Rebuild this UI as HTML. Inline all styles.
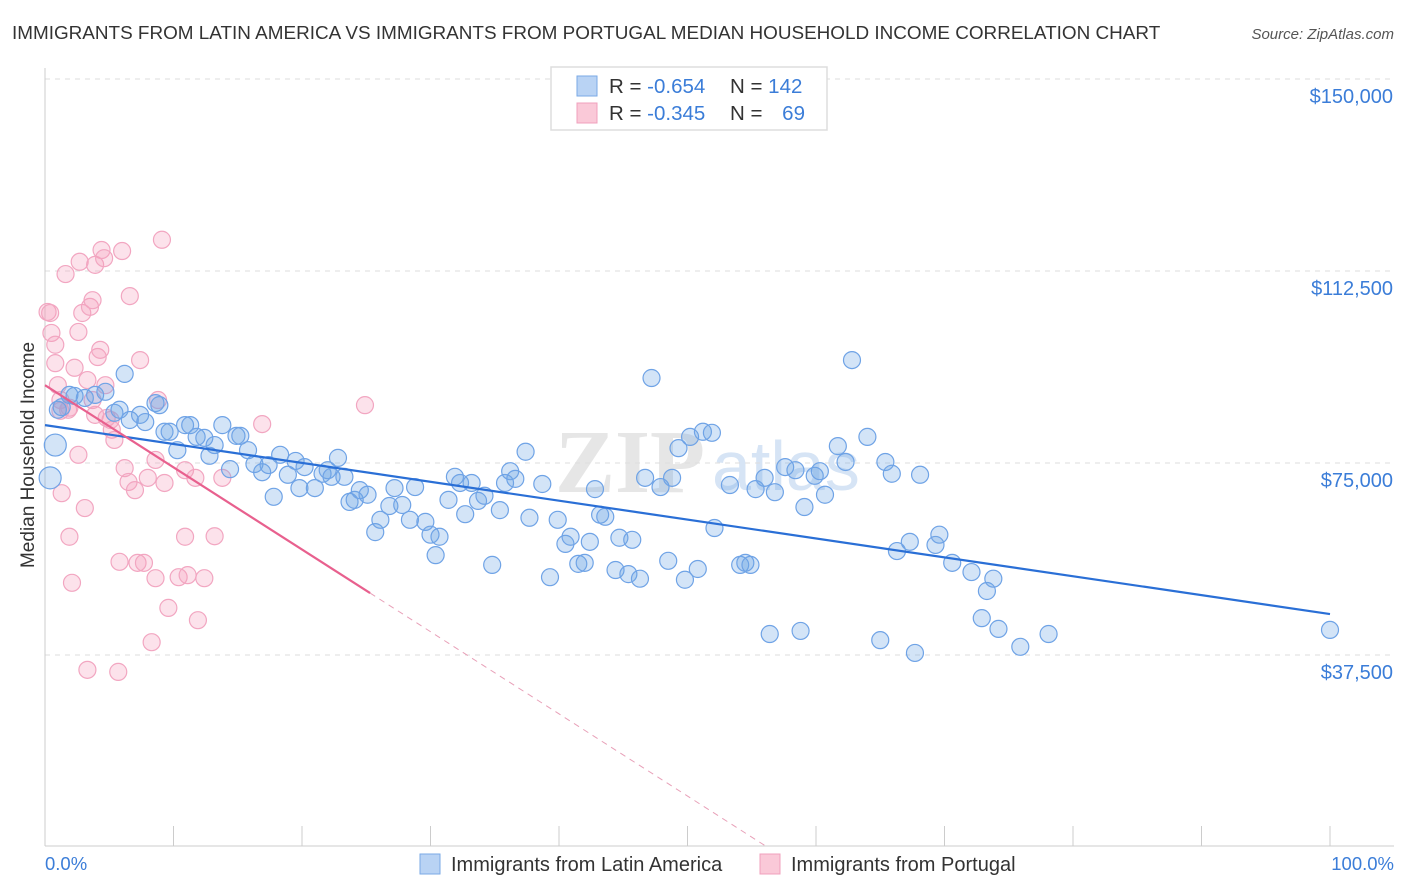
<!DOCTYPE html>
<html><head><meta charset="utf-8">
<style>
body{margin:0;background:#fff;font-family:"Liberation Sans",sans-serif;}
#wrap{position:relative;width:1406px;height:892px;overflow:hidden;}
</style></head>
<body>
<div id="wrap">
<svg id="svg" width="1406" height="892" xmlns="http://www.w3.org/2000/svg" font-family="Liberation Sans, sans-serif">
<text x="12" y="39" font-size="18.9" fill="#333">IMMIGRANTS FROM LATIN AMERICA VS IMMIGRANTS FROM PORTUGAL MEDIAN HOUSEHOLD INCOME CORRELATION CHART</text>
<text x="1394" y="39" font-size="15" fill="#555" font-style="italic" text-anchor="end">Source: ZipAtlas.com</text>
<text x="34" y="455" font-size="19" fill="#333" text-anchor="middle" transform="rotate(-90 34 455)">Median Household Income</text>
<text x="555" y="492" font-size="90" fill="#e6e6e6" font-family="Liberation Serif, serif" font-weight="bold">ZIP</text>
<text x="712" y="490" font-size="70" fill="#d6e4f5">atlas</text>
<g id="grid"></g>
<g id="axes"></g>
<g id="pts"></g>
<g id="trend"></g>
<g>
<rect x="551" y="67" width="276" height="63" fill="#fff" stroke="#ddd" stroke-width="1.5"/>
<rect x="577" y="76" width="20" height="20" fill="#b9d3f4" stroke="#7aa9e6"/>
<rect x="577" y="103" width="20" height="20" fill="#fac9d8" stroke="#f0a0bd"/>
<text x="609" y="93" font-size="20.5" fill="#333">R = <tspan fill="#3b7dd8">-0.654</tspan></text>
<text x="730" y="93" font-size="20.5" fill="#333">N = <tspan fill="#3b7dd8">142</tspan></text>
<text x="609" y="120" font-size="20.5" fill="#333">R = <tspan fill="#3b7dd8">-0.345</tspan></text>
<text x="730" y="120" font-size="20.5" fill="#333">N = <tspan fill="#3b7dd8" dx="14">69</tspan></text>
</g>
<g>
<rect x="420" y="854" width="20" height="20" fill="#b9d3f4" stroke="#7aa9e6"/>
<text x="451" y="871" font-size="20" fill="#333">Immigrants from Latin America</text>
<rect x="760" y="854" width="20" height="20" fill="#fac9d8" stroke="#f0a0bd"/>
<text x="791" y="871" font-size="20" fill="#333">Immigrants from Portugal</text>
</g>
<text x="45" y="870" font-size="18.5" fill="#3b7dd8">0.0%</text>
<text x="1394" y="870" font-size="18.5" fill="#3b7dd8" text-anchor="end">100.0%</text>
</svg>
</div>
<script>
const yTicks=[37500,75000,112500,150000];
const yTickLabels=["$37,500","$75,000","$112,500","$150,000"];
const blueX=[0.4,0.8,1.0,1.3,1.9,2.3,3.1,3.9,4.7,5.4,5.8,6.2,6.6,7.4,7.8,8.6,8.9,9.3,9.7,10.3,10.9,11.3,11.8,12.4,12.8,13.2,13.8,14.4,14.9,15.2,15.8,16.3,16.9,17.4,17.8,18.3,18.9,19.5,19.8,20.2,21.0,21.6,22.0,22.3,22.8,23.3,23.7,24.1,24.5,25.1,25.7,26.1,26.8,27.2,27.8,28.4,28.8,29.6,30.0,30.4,30.7,31.4,31.9,32.3,32.7,33.2,33.7,34.2,34.8,35.4,35.8,36.2,36.6,37.4,37.7,38.7,39.3,39.9,40.5,40.9,41.5,42.0,42.4,42.8,43.2,43.6,44.4,44.7,45.4,45.7,46.3,46.7,47.2,47.9,48.5,48.8,49.3,49.8,50.2,50.8,51.2,51.9,52.1,53.3,54.1,54.5,54.9,55.3,56.0,56.4,56.8,57.6,58.4,58.8,59.1,59.9,60.3,60.7,61.7,62.3,62.8,64.0,65.0,65.4,65.9,66.3,67.3,67.7,68.1,69.3,69.6,70.6,72.1,72.9,73.3,73.8,74.2,75.9,78.1,100];
const blueY=[72.1,78.5,85.4,85.9,88.3,88.1,87.7,88.3,88.9,84.8,85.4,92.4,83.4,84.4,83.0,86.7,86.3,81.1,81.1,77.5,82.4,82.4,80.1,79.9,76.4,78.5,82.4,73.8,80.3,80.3,77.5,74.8,73.2,74.6,68.4,76.6,72.7,75.4,70.1,74.2,70.1,72.9,73.6,72.3,76.0,72.3,67.4,67.8,69.7,68.8,61.5,63.9,66.6,70.1,66.8,63.9,70.3,63.5,61.0,57.0,60.6,67.8,72.3,71.1,65.0,71.1,67.6,68.6,55.1,65.8,71.1,73.4,71.9,77.2,64.3,70.9,52.7,63.9,59.2,60.6,55.3,55.5,59.6,69.9,64.9,64.5,54.1,60.4,53.3,60.0,52.4,72.1,91.6,70.3,55.9,72.1,77.9,52.2,80.1,54.3,81.1,80.9,62.3,70.7,55.1,55.5,55.1,69.9,72.1,41.6,69.3,74.2,73.6,42.2,66.4,72.5,73.4,68.8,78.3,75.2,95.1,80.1,40.4,75.2,72.9,57.8,59.6,37.9,72.7,59.0,61.0,55.5,53.7,44.7,50.0,52.4,42.6,39.1,41.6,42.4];
const pinkX=[0.2,0.4,0.5,0.8,0.8,1.0,1.2,1.3,1.6,1.8,1.9,2.1,2.3,2.6,2.6,2.7,2.9,3.1,3.3,3.3,3.5,3.7,3.9,4.1,4.3,4.4,4.6,4.7,4.8,5.1,5.2,5.4,5.7,5.8,6.0,6.2,6.5,6.6,7.0,7.2,7.4,7.7,8.0,8.3,8.6,8.6,8.8,9.1,9.3,9.6,10.4,10.9,10.9,11.1,11.7,11.9,12.4,13.2,13.8,16.9,24.9,3.7,3.9,1.9,1.2];
const pinkY=[104.5,104.3,100.4,98.1,94.5,90.2,87.3,69.1,111.9,85.4,60.6,51.6,93.6,76.6,100.6,114.3,104.3,66.2,34.6,91.2,105.5,106.8,113.7,95.7,97.1,116.6,115.0,90.2,83.8,83.4,81.5,79.5,34.2,55.7,116.4,74.0,71.3,107.6,69.7,55.5,95.1,55.5,72.1,40.0,52.5,75.6,87.3,118.6,71.1,46.7,52.7,60.6,73.6,53.1,72.1,44.3,52.5,60.7,72.1,82.6,86.3,87.3,84.4,85.8,85.2];
const blueTrend=[82.4,45.5];
const pinkTrend=[90.2,-1.605];
const pinkSolidEnd=25.3;

const NS="http://www.w3.org/2000/svg";
const X=p=>45+p*12.85;
const Y=v=>79+(150-v)/37.5*192;
function mk(tag,attrs,parent){const e=document.createElementNS(NS,tag);for(const k in attrs)e.setAttribute(k,attrs[k]);parent.appendChild(e);return e;}
const grid=document.getElementById('grid'),axes=document.getElementById('axes'),pts=document.getElementById('pts'),trend=document.getElementById('trend');
yTicks.forEach((t,i)=>{
  const l=mk('line',{x1:45,x2:1394,y1:Y(t/1000),y2:Y(t/1000),stroke:'#ddd','stroke-dasharray':'5,5'},grid);
  
  
  const tx=mk('text',{x:1393,y:Y(t/1000)+24,'font-size':20,fill:'#3b7dd8','text-anchor':'end'},axes);
  tx.textContent=yTickLabels[i];
  
  
});
const ax=mk('line',{x1:45,x2:1394,y1:846,y2:846,stroke:'#ccc'},axes);


const ay=mk('line',{x1:45,x2:45,y1:68,y2:846,stroke:'#ccc'},axes);


for(let i=0;i<=10;i++){
  const t=mk('line',{x1:X(i*10),x2:X(i*10),y1:826,y2:846,stroke:'#ccc'},axes);
  
  
}
pinkX.forEach((x,i)=>{
  const c=mk('circle',{cx:X(x),cy:Y(pinkY[i]),r:8.5,fill:'rgba(244,160,190,0.3)',stroke:'#f2a6c1','stroke-width':1.2},pts);
  
  
});
blueX.forEach((x,i)=>{
  const c=mk('circle',{cx:X(x),cy:Y(blueY[i]),r:x<1?11:8.5,fill:'rgba(110,165,230,0.3)',stroke:'#6fa3e6','stroke-width':1.2},pts);
  
  
});
const bl=mk('line',{x1:X(0),y1:Y(blueTrend[0]),x2:X(100),y2:Y(blueTrend[1]),stroke:'#2a6fd6','stroke-width':2.2},trend);


const pz=-pinkTrend[0]/pinkTrend[1];
const pl=mk('line',{x1:X(0),y1:Y(pinkTrend[0]),x2:X(pinkSolidEnd),y2:Y(pinkTrend[0]+pinkTrend[1]*pinkSolidEnd),stroke:'#e8608e','stroke-width':2.2},trend);


const pd=mk('line',{x1:X(pinkSolidEnd),y1:Y(pinkTrend[0]+pinkTrend[1]*pinkSolidEnd),x2:X(pz),y2:Y(0),stroke:'#e8a0b8','stroke-width':1,'stroke-dasharray':'6,5'},trend);


</script>
</body></html>
